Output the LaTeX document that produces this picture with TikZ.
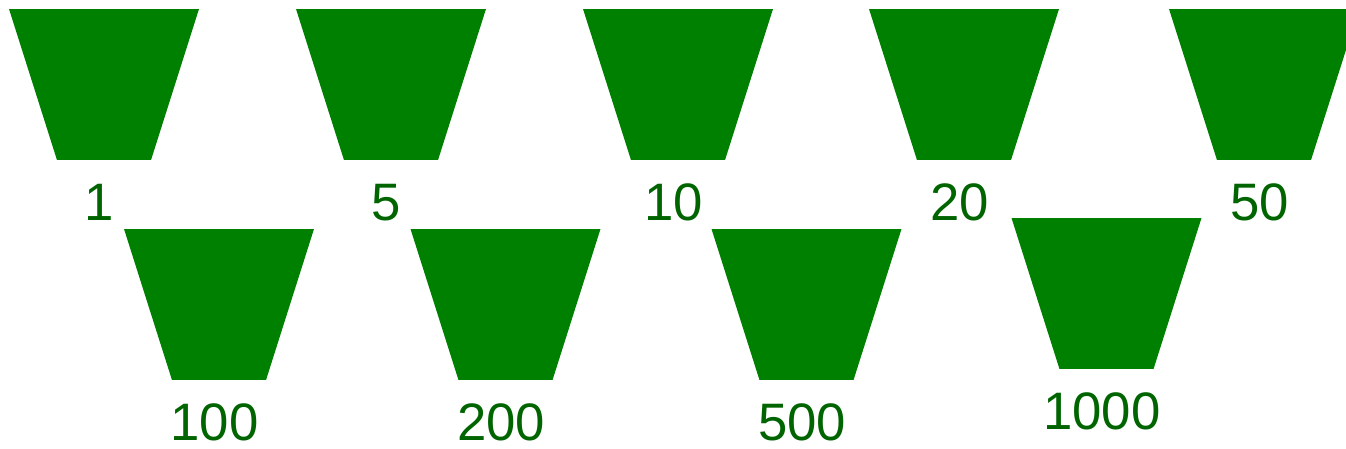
\documentclass[tikz,border=0pt]{standalone}
\usepackage{fontspec}
\setmainfont{Liberation Sans}
\usepackage{tikz}
\usetikzlibrary{positioning,shapes.geometric}
\definecolor{potgreen}{HTML}{008000}
\definecolor{labelgreen}{HTML}{006400}

\begin{document}
\begin{tikzpicture}[x=0.02cm,y=-0.02cm,node distance=0.47cm,
  pot/.style={trapezium,shape border rotate=180,trapezium left angle=63,trapezium right angle=63,trapezium stretches=true,minimum width=3.8cm,minimum height=3.02cm,inner sep=1pt,outer sep=0pt,fill=potgreen},
  potlabel/.style={inner sep=0pt,text=labelgreen,font=\fontsize{30}{36}\selectfont,xshift=-0.09cm}]
\useasboundingbox (0,0) rectangle (1346,449);
% top row
\node[pot] (p1) at (104,84.5) {};
\node[pot] (p5) at (391,84.5) {};
\node[pot] (p10) at (678,84.5) {};
\node[pot] (p20) at (964,84.5) {};
\node[pot] (p50) at (1264,84.5) {};
\node[potlabel,below=of p1] (l1) {1};
\node[potlabel,below=of p5] (l5) {5};
\node[potlabel,below=of p10] (l10) {10};
\node[potlabel,below=of p20] (l20) {20};
\node[potlabel,below=of p50] (l50) {50};
% bottom row
\node[pot] (p100) at (219,304.5) {};
\node[pot] (p200) at (505.5,304.5) {};
\node[pot] (p500) at (806.5,304.5) {};
\node[pot] (p1000) at (1106.5,293.5) {};
\node[potlabel,below=of p100] (l100) {100};
\node[potlabel,below=of p200] (l200) {200};
\node[potlabel,below=of p500] (l500) {500};
\node[potlabel,below=of p1000] (l1000) {1000};
\end{tikzpicture}
\end{document}
